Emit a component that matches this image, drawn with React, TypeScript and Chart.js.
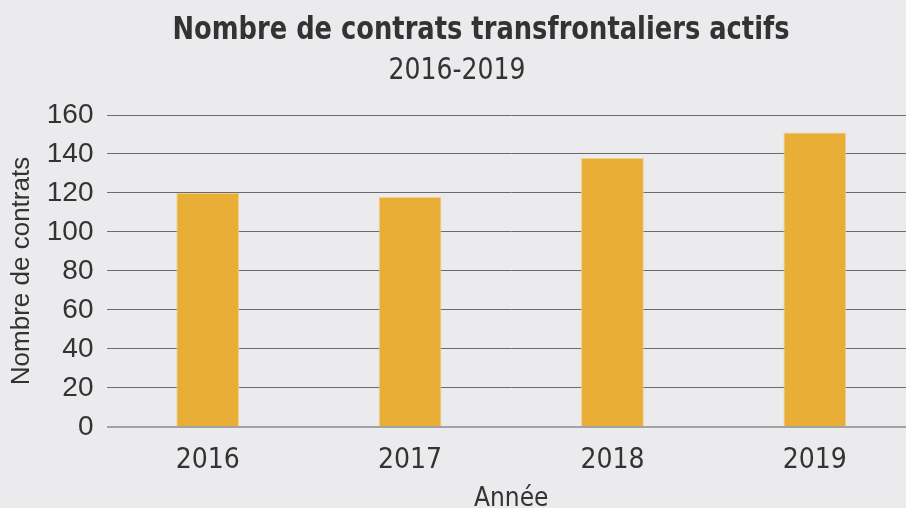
import React, { useEffect, useRef } from "react";
import { Chart, registerables } from "chart.js";

Chart.register(...registerables);

const categories = ["2016", "2017", "2018", "2019"];
const contrats = [120, 118, 138, 151];
const yMin = 0;
const yMax = 160;
const yStep = 20;
const titleText = "Nombre de contrats transfrontaliers actifs";
const subtitleText = "2016-2019";
const yAxisTitle = "Nombre de contrats";
const xAxisTitle = "Année";

const NARROW = '"Liberation Sans Narrow", "DejaVu Sans Condensed", "Arial Narrow", sans-serif';
const WIDE = '"Liberation Sans", Arimo, Arial, sans-serif';
const TEXT = "#333333";
const BG = "#ebebed";

function drawFitted(ctx: CanvasRenderingContext2D, text: string, cx: number, cy: number, width: number) {
  const w = ctx.measureText(text).width;
  const s = Math.min(1, width / w);
  ctx.save();
  ctx.translate(cx, cy);
  ctx.scale(s, 1);
  ctx.fillText(text, 0, 0);
  ctx.restore();
}

const titlePlugin = {
  id: "customTitles",
  afterDraw(chart: any) {
    const ctx = chart.ctx as CanvasRenderingContext2D;
    ctx.save();
    ctx.fillStyle = TEXT;
    ctx.textAlign = "center";
    ctx.textBaseline = "middle";
    ctx.font = `bold 32px ${NARROW}`;
    drawFitted(ctx, titleText, 481, 31, 617);
    ctx.font = `30px ${NARROW}`;
    drawFitted(ctx, subtitleText, 457, 71, 137);
    ctx.restore();
  },
};

export default function App() {
  const canvasRef = useRef<HTMLCanvasElement | null>(null);

  useEffect(() => {
    document.body.style.margin = "0";
    const canvas = canvasRef.current;
    if (!canvas) return;
    const chart = new Chart(canvas, {
      type: "bar",
      data: {
        labels: categories,
        datasets: [
          {
            label: yAxisTitle,
            data: contrats,
            backgroundColor: "#e8ae36",
            borderColor: "#efd08e",
            borderWidth: 1,
            barPercentage: 0.31,
            categoryPercentage: 1,
          },
        ],
      },
      options: {
        responsive: true,
        maintainAspectRatio: false,
        animation: false,
        layout: { padding: { top: 115, left: 0, right: 0, bottom: 0 } },
        plugins: {
          legend: { display: false },
          title: { display: false },
          tooltip: { enabled: false },
        },
        scales: {
          x: {
            grid: { display: false, drawTicks: false },
            border: { display: false },
            ticks: {
              color: TEXT,
              padding: 16,
              font: { family: NARROW, size: 28, lineHeight: 1.286 },
            },
            title: {
              display: true,
              text: xAxisTitle,
              color: TEXT,
              padding: { top: 0, bottom: 4 },
              font: { family: NARROW, size: 26, lineHeight: 0.346 },
            },
          },
          y: {
            min: yMin,
            max: yMax,
            ticks: {
              stepSize: yStep,
              color: TEXT,
              padding: 13,
              font: { family: WIDE, size: 28 },
            },
            grid: {
              drawTicks: false,
              color: (c: any) => (c.tick && c.tick.value === 0 ? "#a3a3a3" : "#6b6b6b"),
              lineWidth: (c: any) => (c.tick && c.tick.value === 0 ? 2 : 1),
            },
            border: { display: false },
            title: {
              display: true,
              text: yAxisTitle,
              color: TEXT,
              padding: { top: 11, bottom: 2 },
              font: { family: WIDE, size: 26, lineHeight: 0.8 },
            },
          },
        },
      },
      plugins: [titlePlugin],
    });
    return () => chart.destroy();
  }, []);

  return (
    <div style={{ width: 906, height: 508, overflow: "hidden", background: BG }}>
      <div style={{ width: 916, height: 508, position: "relative" }}>
        <canvas ref={canvasRef} />
      </div>
    </div>
  );
}
